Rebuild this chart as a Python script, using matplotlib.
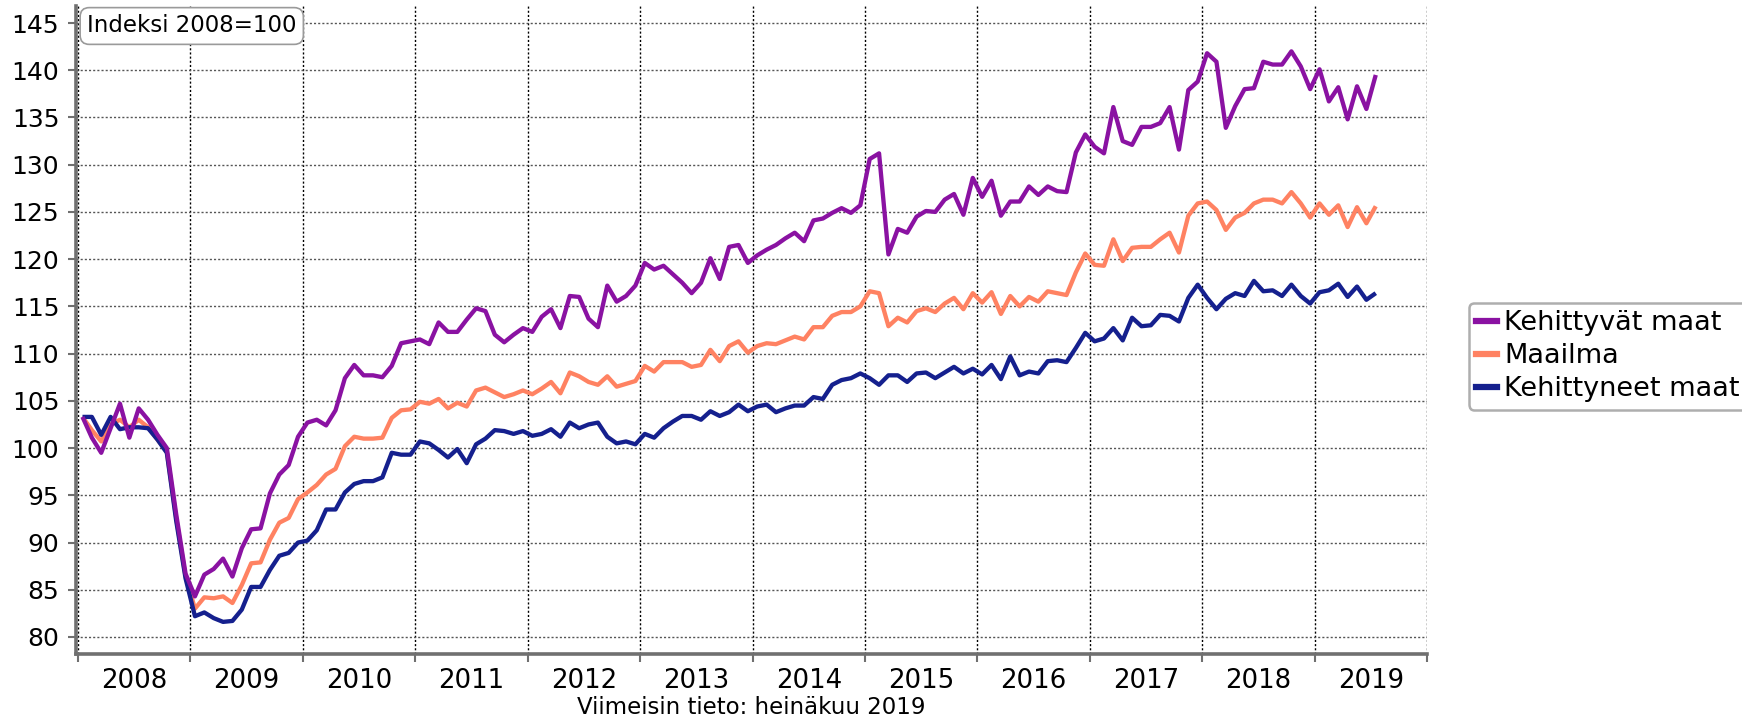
import matplotlib
matplotlib.use("Agg")
import matplotlib.pyplot as plt
import numpy as np
from matplotlib.lines import Line2D

start_year = 2008
years = list(range(2008, 2020))
y_ticks = list(range(80, 150, 5))

labels = ["Kehittyvät maat", "Maailma", "Kehittyneet maat"]
colors = ["#8A12A2", "#FF8262", "#15208E"]

kehittyvat = [
    103.3, 101.1, 99.5, 102.1, 104.7, 101.1, 104.2, 103.0, 101.4, 100.0, 93.0, 86.7,
    84.3, 86.6, 87.2, 88.3, 86.4, 89.4, 91.4, 91.5, 95.2, 97.2, 98.2, 101.2,
    102.7, 103.0, 102.4, 104.0, 107.4, 108.8, 107.7, 107.7, 107.5, 108.7, 111.1, 111.3,
    111.5, 111.0, 113.3, 112.3, 112.3, 113.6, 114.8, 114.5, 112.0, 111.2, 112.0, 112.7,
    112.3, 113.9, 114.7, 112.7, 116.1, 116.0, 113.7, 112.8, 117.2, 115.5, 116.1, 117.2,
    119.6, 118.9, 119.3, 118.4, 117.5, 116.4, 117.5, 120.1, 117.9, 121.3, 121.5, 119.6,
    120.4, 121.0, 121.5, 122.2, 122.8, 121.9, 124.1, 124.3, 124.9, 125.4, 124.9, 125.7,
    130.6, 131.2, 120.5, 123.2, 122.8, 124.5, 125.1, 125.0, 126.3, 126.9, 124.7, 128.6,
    126.6, 128.3, 124.6, 126.1, 126.1, 127.7, 126.8, 127.7, 127.2, 127.1, 131.3, 133.2,
    131.9, 131.2, 136.1, 132.5, 132.1, 134.0, 134.0, 134.4, 136.1, 131.6, 137.9, 138.8,
    141.8, 140.9, 133.9, 136.2, 138.0, 138.1, 140.9, 140.6, 140.6, 142.0, 140.4, 138.0,
    140.1, 136.7, 138.2, 134.8, 138.3, 135.9, 139.5,
]

maailma = [
    103.3, 101.9, 100.7, 102.5, 103.0, 102.2, 103.0, 102.2, 100.9, 99.6, 92.6, 86.4,
    83.0, 84.2, 84.1, 84.3, 83.6, 85.5, 87.8, 87.9, 90.3, 92.1, 92.6, 94.6,
    95.3, 96.1, 97.2, 97.8, 100.2, 101.2, 101.0, 101.0, 101.1, 103.2, 104.0, 104.1,
    104.9, 104.7, 105.2, 104.2, 104.8, 104.4, 106.1, 106.4, 105.9, 105.4, 105.7, 106.1,
    105.7, 106.3, 107.0, 105.8, 108.0, 107.6, 107.0, 106.7, 107.6, 106.5, 106.8, 107.1,
    108.7, 108.1, 109.1, 109.1, 109.1, 108.6, 108.8, 110.4, 109.2, 110.8, 111.3, 110.1,
    110.8, 111.1, 111.0, 111.4, 111.8, 111.5, 112.8, 112.8, 114.0, 114.4, 114.4, 115.0,
    116.6, 116.4, 112.9, 113.8, 113.3, 114.5, 114.8, 114.4, 115.3, 115.9, 114.7, 116.4,
    115.4, 116.5, 114.2, 116.1, 115.0, 116.0, 115.5, 116.6, 116.4, 116.2, 118.6, 120.6,
    119.4, 119.3, 122.1, 119.8, 121.2, 121.3, 121.3, 122.1, 122.8, 120.7, 124.6, 125.9,
    126.1, 125.2, 123.1, 124.4, 124.9, 125.9, 126.3, 126.3, 125.9, 127.1, 125.9, 124.4,
    125.9, 124.7, 125.7, 123.4, 125.5, 123.8, 125.6,
]

kehittyneet = [
    103.3, 103.3, 101.4, 103.3, 102.0, 102.2, 102.2, 102.1, 100.9, 99.5, 92.3, 86.2,
    82.2, 82.6, 82.0, 81.6, 81.7, 82.9, 85.3, 85.3, 87.1, 88.6, 88.9, 90.0,
    90.2, 91.3, 93.5, 93.5, 95.3, 96.2, 96.5, 96.5, 96.9, 99.5, 99.3, 99.3,
    100.7, 100.5, 99.8, 99.0, 99.9, 98.4, 100.4, 101.0, 101.9, 101.8, 101.5, 101.8,
    101.3, 101.5, 102.0, 101.2, 102.7, 102.1, 102.5, 102.7, 101.2, 100.5, 100.7, 100.4,
    101.5, 101.1, 102.1, 102.8, 103.4, 103.4, 103.0, 103.9, 103.4, 103.8, 104.6, 103.9,
    104.4, 104.6, 103.8, 104.2, 104.5, 104.5, 105.4, 105.2, 106.7, 107.2, 107.4, 107.9,
    107.4, 106.7, 107.7, 107.7, 107.0, 107.9, 108.0, 107.4, 108.0, 108.6, 107.9, 108.4,
    107.8, 108.8, 107.3, 109.7, 107.7, 108.1, 107.9, 109.2, 109.3, 109.1, 110.6, 112.2,
    111.3, 111.6, 112.7, 111.4, 113.8, 112.9, 113.0, 114.1, 114.0, 113.4, 115.9, 117.3,
    115.9, 114.7, 115.8, 116.4, 116.1, 117.7, 116.6, 116.7, 116.1, 117.3, 116.1, 115.3,
    116.5, 116.7, 117.4, 116.0, 117.1, 115.7, 116.4,
]

W, H = 1742, 720
fig = plt.figure(figsize=(W / 100, H / 100), dpi=100)
L, R, T, B = 76, 1427.3, 6, 654
ax = fig.add_axes([L / W, 1 - B / H, (R - L) / W, (B - T) / H])

n = len(kehittyvat)
x = start_year + (np.arange(n) + 0.5) / 12

series = [kehittyvat, maailma, kehittyneet]
zorders = [5, 3, 4]
for vals, c, z in zip(series, colors, zorders):
    ax.plot(x, vals, color=c, lw=3.1, zorder=z, solid_joinstyle="round", solid_capstyle="butt")

ax.set_xlim(2007.984, 2020.0)
ax.set_ylim(78.2, 146.8)

ax.set_yticks(y_ticks)
ax.set_yticklabels([str(v) for v in y_ticks])
ax.set_xticks([y for y in range(2008, 2021)])
ax.set_xticklabels([])
ax.set_xticks([y + 0.5 for y in years], minor=True)
ax.set_xticklabels([str(y) for y in years], minor=True)

ax.tick_params(axis="y", which="major", length=6, width=1.5, color="#707070",
               labelsize=18, pad=6)
ax.tick_params(axis="x", which="major", length=6, width=1.5, color="#707070")
ax.tick_params(axis="x", which="minor", length=0, labelsize=18.7, pad=10)

for s in ["top", "right"]:
    ax.spines[s].set_visible(False)
for s in ["left", "bottom"]:
    ax.spines[s].set_color("#707070")
    ax.spines[s].set_linewidth(2.6)

ax.grid(axis="y", which="major", color="#555555", lw=1.0, ls=(0, (1.5, 1.5)))
ax.grid(axis="x", which="major", color="#000000", lw=1.0, ls=(0, (1.5, 1.5)))
ax.set_axisbelow(True)

fig.text(87 / W, 1 - 26 / H, "Indeksi 2008=100", fontsize=16.5, ha="left", va="center",
         bbox=dict(boxstyle="round,pad=0.3,rounding_size=0.4", fc="white", ec="#9a9a9a", lw=1.2),
         zorder=10)

fig.text((L + R) / 2 / W, 1 - 708 / H, "Viimeisin tieto: heinäkuu 2019",
         fontsize=16.5, ha="center", va="center")

handles = [Line2D([0], [0], color=c, lw=4.5) for c in colors]
leg = fig.legend(handles, labels, loc="upper left", bbox_to_anchor=(1469 / W, 1 - 303 / H),
                 fontsize=19.5, handlelength=0.78, handletextpad=0.25, borderpad=0.27,
                 labelspacing=0.26, frameon=True, fancybox=True, borderaxespad=0)
leg.get_frame().set_edgecolor("#9a9a9a")
leg.get_frame().set_linewidth(1.8)

fig.savefig("out.png", dpi=100)
